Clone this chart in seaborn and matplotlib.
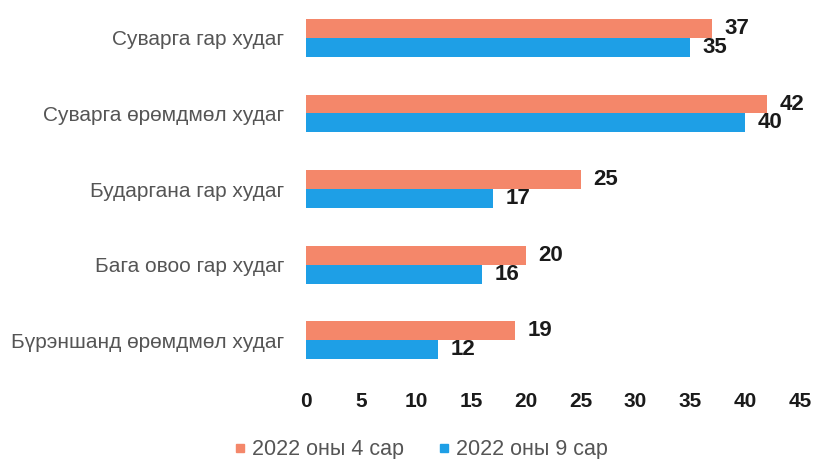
import matplotlib.pyplot as plt
import seaborn as sns
import pandas as pd

# categories and series values
categories = ['Суварга гар худаг', 'Суварга өрөмдмөл худаг', 'Бударгана гар худаг',
              'Бага овоо гар худаг', 'Бүрэншанд өрөмдмөл худаг']
series_names = ['2022 оны 4 сар', '2022 оны 9 сар']
values_apr = [37, 42, 25, 20, 19]
values_sep = [35, 40, 17, 16, 12]

df = pd.DataFrame({
    'name': categories * 2,
    'value': values_apr + values_sep,
    'period': [series_names[0]] * len(categories) + [series_names[1]] * len(categories),
})

colors = {series_names[0]: '#F4876A', series_names[1]: '#1E9FE6'}

sns.set_style('white')
plt.rcParams['font.family'] = ['Liberation Sans', 'DejaVu Sans']

fig, ax = plt.subplots(figsize=(8.17, 4.59), dpi=100)
sns.barplot(data=df, y='name', x='value', hue='period', palette=colors,
            orient='h', width=0.5, saturation=1, linewidth=0, ax=ax, legend=False)

# value labels next to each bar
for cont in ax.containers:
    ax.bar_label(cont, padding=9, fontsize=16, fontweight='bold', color='#1a1a1a')

ax.set_xlim(0, 45)
ax.set_xticks(range(0, 46, 5))
ax.set_xlabel('')
ax.set_ylabel('')
ax.tick_params(axis='x', labelsize=15, colors='#1a1a1a', length=0, pad=10)
ax.tick_params(axis='y', labelsize=15, colors='#555555', length=0, pad=16)
for lbl in ax.get_xticklabels():
    lbl.set_fontweight('bold')
sns.despine(ax=ax, left=True, bottom=True)

# legend at the bottom
handles = [plt.Line2D([], [], marker='s', linestyle='', color=colors[s], markersize=6)
           for s in series_names]
leg = fig.legend(handles, series_names, loc='lower center', ncol=2, frameon=False,
                 fontsize=15.5, handlelength=0.6, handletextpad=0.25, columnspacing=1.6,
                 bbox_to_anchor=(0.515, -0.045))
for t in leg.get_texts():
    t.set_color('#555555')

plt.subplots_adjust(left=0.375, right=0.979, top=1.0, bottom=0.176)
plt.savefig('out.png', dpi=100)
